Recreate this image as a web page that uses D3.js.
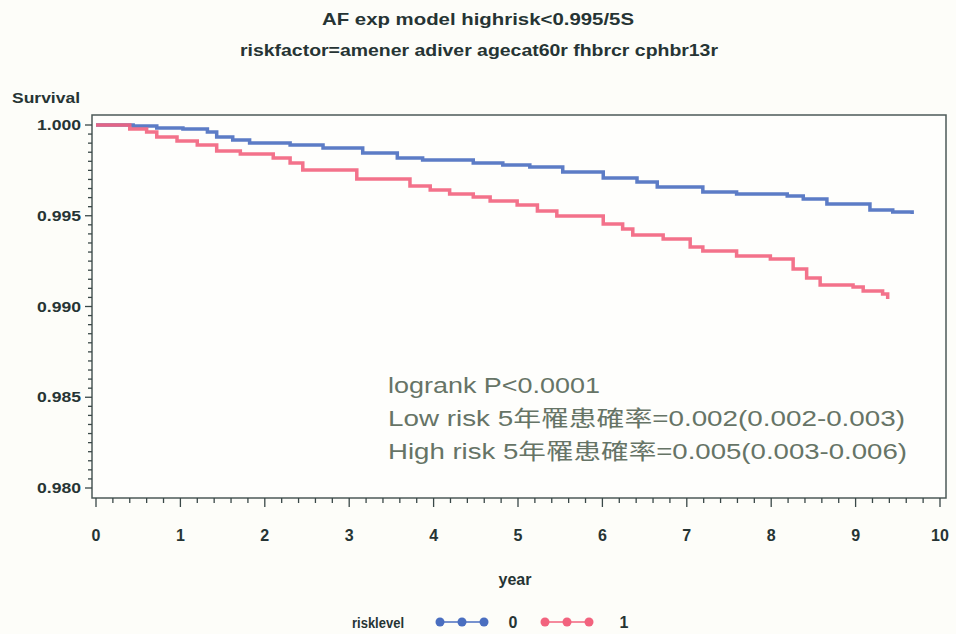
<!DOCTYPE html>
<html>
<head>
<meta charset="utf-8">
<style>
  body { margin: 0; background: #fdfdf9; }
  svg { display: block; }
  .sas { font-family: "Liberation Sans Narrow", "Liberation Sans", Arial, sans-serif; fill: #263434; }
  .note { font-family: "Liberation Sans", Arial, "Noto Sans CJK TC", sans-serif; fill: #667466; font-size: 22px; }
</style>
</head>
<body>
<script src="https://cdn.jsdelivr.net/npm/d3@7"></script>
<script>
// Kaplan-Meier estimates (year, survival)
var lowYears = [0, 0.44, 0.72, 1.03, 1.32, 1.43, 1.62, 1.82, 2.30, 2.69, 3.16, 3.57, 3.87, 4.47, 4.82, 5.14, 5.53, 6.01, 6.41, 6.65, 7.19, 7.59, 8.19, 8.38, 8.66, 9.17, 9.44, 9.67];
var lowSurv = [1.0000, 0.99994, 0.99983, 0.99978, 0.99961, 0.99934, 0.99917, 0.99901, 0.99890, 0.99873, 0.99846, 0.99818, 0.99807, 0.99791, 0.99780, 0.99769, 0.99741, 0.99708, 0.99686, 0.99658, 0.99631, 0.99620, 0.99609, 0.99592, 0.99565, 0.99532, 0.99521, 0.99510];

var highYears = [0, 0.40, 0.60, 0.72, 0.96, 1.20, 1.43, 1.71, 2.10, 2.30, 2.45, 3.09, 3.72, 3.96, 4.19, 4.47, 4.67, 4.99, 5.23, 5.46, 6.01, 6.24, 6.36, 6.72, 7.04, 7.19, 7.59, 7.99, 8.26, 8.42, 8.58, 8.97, 9.09, 9.32, 9.38];
var highSurv = [1.0000, 0.99978, 0.99961, 0.99934, 0.99912, 0.99890, 0.99857, 0.99840, 0.99818, 0.99791, 0.99752, 0.99702, 0.99664, 0.99642, 0.99620, 0.99603, 0.99581, 0.99559, 0.99526, 0.99499, 0.99455, 0.99427, 0.99394, 0.99372, 0.99328, 0.99306, 0.99278, 0.99262, 0.99207, 0.99157, 0.99118, 0.99107, 0.99085, 0.99069, 0.99041];

var xTicks = [0, 1, 2, 3, 4, 5, 6, 7, 8, 9, 10];
var yTicks = [0.980, 0.985, 0.990, 0.995, 1.000];
var riskLevels = ["0", "1"];
var colors = ["#4a6ec0", "#f2637e"];

var titleLines = ["AF exp model highrisk<0.995/5S", "riskfactor=amener adiver agecat60r fhbrcr cphbr13r"];
var noteLines = ["logrank P<0.0001", "Low risk 5年罹患確率=0.002(0.002-0.003)", "High risk 5年罹患確率=0.005(0.003-0.006)"];
var noteWidths = [212, 517, 519];

var W = 956, H = 634;
var box = {left: 92, right: 946, top: 115, bottom: 498};

var svg = d3.select("body").append("svg")
  .attr("width", W)
  .attr("height", H);

var x = d3.scaleLinear().domain([0, 10]).range([96, 940]);
var y = d3.scaleLinear().domain([0.980, 1.000]).range([488, 125]);

// titles
svg.append("text").attr("class", "sas")
  .attr("x", 478).attr("y", 25)
  .attr("text-anchor", "middle")
  .attr("font-size", 17).attr("font-weight", "bold")
  .attr("textLength", 312).attr("lengthAdjust", "spacingAndGlyphs")
  .text(titleLines[0]);
svg.append("text").attr("class", "sas")
  .attr("x", 479).attr("y", 56)
  .attr("text-anchor", "middle")
  .attr("font-size", 17).attr("font-weight", "bold")
  .attr("textLength", 478).attr("lengthAdjust", "spacingAndGlyphs")
  .text(titleLines[1]);

// frame
svg.append("rect")
  .attr("x", box.left).attr("y", box.top)
  .attr("width", box.right - box.left).attr("height", box.bottom - box.top)
  .attr("fill", "#fefefc")
  .attr("stroke", "#4c5a58").attr("stroke-width", 1.5);

// y axis
var yMinor = d3.range(0, 41).map(function(i) { return 0.980 + i * 0.0005; });
svg.append("g").selectAll("line")
  .data(yMinor)
  .enter().append("line")
  .attr("x1", function(d, i) { return i % 10 == 0 ? 85 : 88; })
  .attr("x2", box.left)
  .attr("y1", function(d) { return y(d); })
  .attr("y2", function(d) { return y(d); })
  .attr("stroke", "#3a4848").attr("stroke-width", 1.3);

svg.append("g").selectAll("text")
  .data(yTicks)
  .enter().append("text")
  .attr("class", "sas")
  .attr("x", 81)
  .attr("y", function(d) { return y(d) + 5; })
  .attr("text-anchor", "end")
  .attr("font-size", 15).attr("font-weight", "bold")
  .attr("textLength", 44).attr("lengthAdjust", "spacingAndGlyphs")
  .text(function(d) { return d3.format(".3f")(d); });

svg.append("text").attr("class", "sas")
  .attr("x", 12).attr("y", 103)
  .attr("font-size", 15).attr("font-weight", "bold")
  .attr("textLength", 68).attr("lengthAdjust", "spacingAndGlyphs")
  .text("Survival");

// x axis
var xMinor = d3.range(0, 51).map(function(i) { return i * 0.2; });
svg.append("g").selectAll("line")
  .data(xMinor)
  .enter().append("line")
  .attr("x1", function(d) { return x(d); })
  .attr("x2", function(d) { return x(d); })
  .attr("y1", box.bottom)
  .attr("y2", function(d, i) { return i % 5 == 0 ? 507 : 503; })
  .attr("stroke", "#3a4848").attr("stroke-width", 1.3);

svg.append("g").selectAll("text")
  .data(xTicks)
  .enter().append("text")
  .attr("class", "sas")
  .attr("x", function(d) { return x(d); })
  .attr("y", 541)
  .attr("text-anchor", "middle")
  .attr("font-size", 16).attr("font-weight", "bold")
  .text(function(d) { return d; });

svg.append("text").attr("class", "sas")
  .attr("x", 515).attr("y", 585)
  .attr("text-anchor", "middle")
  .attr("font-size", 16).attr("font-weight", "bold")
  .text("year");

// survival curves
var line = d3.line()
  .x(function(d) { return x(d[0]); })
  .y(function(d) { return y(d[1]); })
  .curve(d3.curveStepAfter);

var series = [d3.zip(lowYears, lowSurv), d3.zip(highYears, highSurv)];

svg.append("g").selectAll("path")
  .data(series)
  .enter().append("path")
  .attr("d", line)
  .attr("fill", "none")
  .attr("stroke", function(d, i) { return colors[i]; })
  .attr("stroke-width", 3.5)
  .attr("stroke-opacity", 0.9);

// annotation
svg.append("g").selectAll("text")
  .data(noteLines)
  .enter().append("text")
  .attr("class", "note")
  .attr("x", 388)
  .attr("y", function(d, i) { return 393 + i * 33; })
  .attr("textLength", function(d, i) { return noteWidths[i]; })
  .attr("lengthAdjust", "spacingAndGlyphs")
  .text(function(d) { return d; });

// legend
var legend = svg.append("g");
legend.append("text").attr("class", "sas")
  .attr("x", 352).attr("y", 628)
  .attr("font-size", 15).attr("font-weight", "bold")
  .attr("textLength", 52).attr("lengthAdjust", "spacingAndGlyphs")
  .text("risklevel");

var entries = legend.selectAll("g.entry")
  .data(riskLevels)
  .enter().append("g")
  .attr("transform", function(d, i) { return "translate(" + (440 + i * 105) + ",622)"; });

entries.append("line")
  .attr("x1", 0).attr("x2", 44)
  .attr("stroke", function(d, i) { return colors[i]; })
  .attr("stroke-width", 1.5);

entries.selectAll("circle")
  .data(function(d, i) { return [0, 22, 44].map(function(v) { return {dx: v, c: colors[i]}; }); })
  .enter().append("circle")
  .attr("cx", function(d) { return d.dx; })
  .attr("r", 4.5)
  .attr("fill", function(d) { return d.c; });

entries.append("text").attr("class", "sas")
  .attr("x", function(d, i) { return i == 0 ? 73 : 79; })
  .attr("y", 6)
  .attr("text-anchor", "middle")
  .attr("font-size", 16).attr("font-weight", "bold")
  .text(function(d) { return d; });
</script>
</body>
</html>
